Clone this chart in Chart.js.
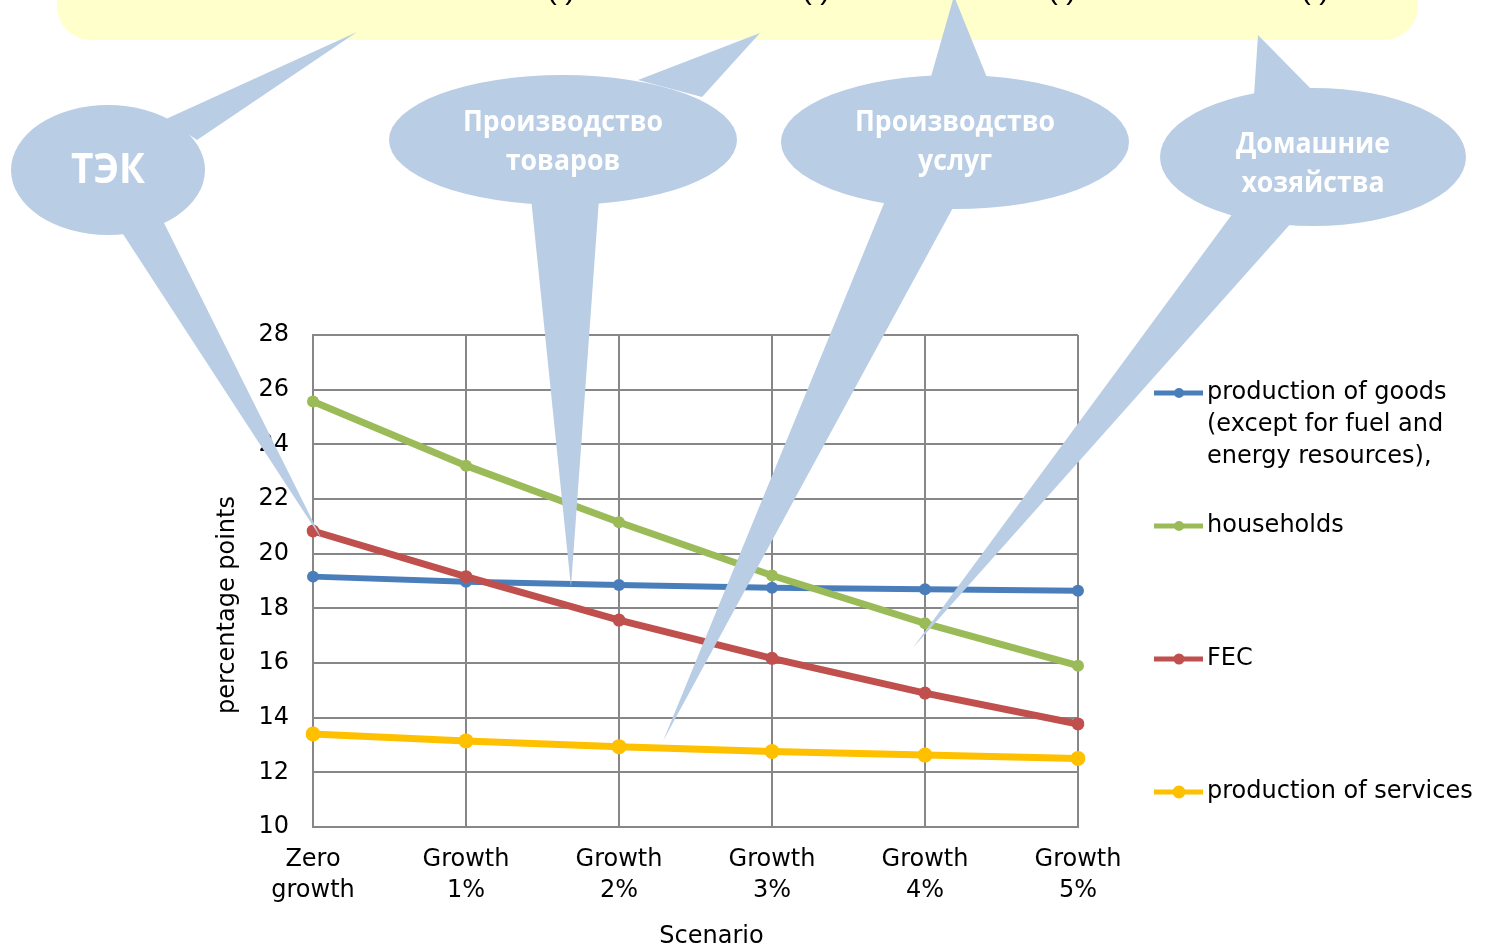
<!DOCTYPE html>
<html>
<head>
<meta charset="utf-8">
<script src="https://cdn.jsdelivr.net/npm/chart.js@4/dist/chart.umd.min.js"></script>
<style>
html, body { margin: 0; padding: 0; background: #fff; }
#kutu { width: 1489px; height: 952px; position: relative; }
</style>
</head>
<body>
<div id="kutu"><canvas id="grafik"></canvas></div>
<script>
// scenarios on the x axis (two-line tick labels)
var scenarios = [["Zero", "growth"], ["Growth", "1%"], ["Growth", "2%"], ["Growth", "3%"], ["Growth", "4%"], ["Growth", "5%"]];

// series values, percentage points
var goods      = [19.16, 18.97, 18.85, 18.75, 18.70, 18.64];
var households = [25.57, 23.22, 21.15, 19.20, 17.45, 15.90];
var fec        = [20.83, 19.16, 17.57, 16.17, 14.90, 13.77];
var services   = [13.40, 13.15, 12.94, 12.76, 12.63, 12.51];

var seriesNames = ["production of goods (except for fuel and energy resources),", "households", "FEC", "production of services"];
var axisNames = ["Scenario", "percentage points"];
var yMin = 10, yMax = 28, yStep = 2;

// callout texts
var bubbleTexts = [["ТЭК"], ["Производство", "товаров"], ["Производство", "услуг"], ["Домашние", "хозяйства"]];

var FONT = '"DejaVu Sans", Arial, sans-serif';
var BUBBLE = '#B9CDE5';

function satirBol(ctx, text, maxW) {
  var words = text.split(' '), lines = [], cur = '';
  for (var w of words) {
    var t = cur ? cur + ' ' + w : w;
    if (ctx.measureText(t).width > maxW && cur) { lines.push(cur); cur = w; }
    else cur = t;
  }
  if (cur) lines.push(cur);
  return lines;
}

// axis titles, placed a little off the plot centre
var eksenBasliklari = {
  id: 'eksenBasliklari',
  afterDraw: function(chart) {
    var ctx = chart.ctx, a = chart.chartArea;
    ctx.save();
    ctx.fillStyle = '#000';
    ctx.font = '24px ' + FONT;
    ctx.textAlign = 'center';
    ctx.textBaseline = 'middle';
    ctx.fillText(axisNames[0], (a.left + a.right) / 2 + 16, 937);
    ctx.translate(228, (a.top + a.bottom) / 2 + 24);
    ctx.rotate(-Math.PI / 2);
    ctx.fillText(axisNames[1], 0, 0);
    ctx.restore();
  }
};

// legend on the right, one entry per dataset
var lejant = {
  id: 'lejant',
  afterDraw: function(chart) {
    var ctx = chart.ctx;
    ctx.save();
    ctx.font = '24px ' + FONT;
    ctx.textBaseline = 'middle';
    ctx.textAlign = 'left';
    chart.data.datasets.forEach(function(ds, i) {
      var y = 393 + i * 133;
      ctx.strokeStyle = ds.borderColor;
      ctx.lineWidth = 5;
      ctx.beginPath(); ctx.moveTo(1154, y); ctx.lineTo(1203, y); ctx.stroke();
      ctx.fillStyle = ds.borderColor;
      ctx.beginPath(); ctx.arc(1179, y, ds.pointRadius - 1, 0, Math.PI * 2); ctx.fill();
      ctx.fillStyle = '#000';
      satirBol(ctx, ds.label, 280).forEach(function(l, k) {
        ctx.fillText(l, 1207, y + k * 32);
      });
    });
    ctx.restore();
  }
};

// yellow header box and the speech bubbles with their tails
var baloncuklar = [
  { cx: 108, cy: 170, rx: 97, ry: 65, size: 42, ty: 171,
    up: { tip: [357, 32], base: [[166, 119], [197, 140]] },
    down: { at: [0.06, 20.5], base: [[121, 231], [163, 221]] } },
  { cx: 563, cy: 140, rx: 174, ry: 65, size: 29, ty: 142,
    up: { tip: [760, 33], base: [[638, 80], [702, 97]] },
    down: { at: [1.686, 18.78], base: [[531, 198], [599, 199]] } },
  { cx: 955, cy: 142, rx: 174, ry: 67, size: 29, ty: 142,
    up: { tip: [954, -4], base: [[930, 80], [988, 80]] },
    down: { at: [2.288, 13.15], base: [[887, 196], [955, 204]] } },
  { cx: 1313, cy: 157, rx: 153, ry: 69, size: 29, ty: 164,
    up: { tip: [1258, 35], base: [[1254, 96], [1314, 92]] },
    down: { at: [3.92, 16.55], base: [[1233, 213], [1293, 221]] } }
];

var aciklamalar = {
  id: 'aciklamalar',
  afterDraw: function(chart) {
    var ctx = chart.ctx, xs = chart.scales.x, ys = chart.scales.y;
    ctx.save();
    // header box, only its lower part is on the page
    ctx.fillStyle = '#FFFFCC';
    ctx.beginPath();
    ctx.roundRect(57, -60, 1361, 100, 34);
    ctx.fill();
    ctx.fillStyle = '#000';
    ctx.font = '30px "Liberation Sans", Arial, sans-serif';
    ctx.textAlign = 'center';
    ctx.textBaseline = 'alphabetic';
    [561, 816, 1062, 1315].forEach(function(x) { ctx.fillText('( )', x, -1); });

    baloncuklar.forEach(function(b, i) {
      ctx.fillStyle = BUBBLE;
      ctx.beginPath();
      ctx.ellipse(b.cx, b.cy, b.rx, b.ry, 0, 0, Math.PI * 2);
      ctx.fill();
      var t = b.up;
      ctx.beginPath();
      ctx.moveTo(t.base[0][0], t.base[0][1]);
      ctx.lineTo(t.tip[0], t.tip[1]);
      ctx.lineTo(t.base[1][0], t.base[1][1]);
      ctx.closePath(); ctx.fill();
      var d = b.down;
      var px = xs.getPixelForValue(d.at[0]), py = ys.getPixelForValue(d.at[1]);
      ctx.beginPath();
      ctx.moveTo(d.base[0][0], d.base[0][1]);
      ctx.lineTo(px, py);
      ctx.lineTo(d.base[1][0], d.base[1][1]);
      ctx.closePath(); ctx.fill();

      var lines = bubbleTexts[i];
      ctx.fillStyle = '#fff';
      ctx.font = 'bold ' + b.size + 'px "Open Sans", "Noto Sans", sans-serif';
      ctx.textAlign = 'center';
      ctx.textBaseline = 'middle';
      lines.forEach(function(l, k) {
        var y = b.ty + (k - (lines.length - 1) / 2) * 39;
        ctx.save();
        ctx.translate(b.cx, y);
        ctx.scale(0.92, 1);
        ctx.fillText(l, 0, 0);
        ctx.restore();
      });
    });
    ctx.restore();
  }
};

function seri(label, data, color, lw, r, sira) {
  return {
    label: label, data: data,
    borderColor: color, backgroundColor: color,
    pointBackgroundColor: color, pointBorderColor: color,
    borderWidth: lw, pointRadius: r, pointBorderWidth: 0,
    tension: 0, order: sira
  };
}

var izgara = { color: '#878787', lineWidth: 2, drawTicks: false };
var kenar = { color: '#878787', width: 2 };

new Chart(document.getElementById('grafik'), {
  type: 'line',
  data: {
    labels: scenarios,
    datasets: [
      seri(seriesNames[0], goods, '#4A7EBB', 6, 6, 4),
      seri(seriesNames[1], households, '#9BBB59', 7, 6, 3),
      seri(seriesNames[2], fec, '#C0504D', 7, 6.5, 2),
      seri(seriesNames[3], services, '#FFC000', 7, 7.5, 1)
    ]
  },
  options: {
    responsive: true,
    maintainAspectRatio: false,
    animation: false,
    layout: { padding: { left: 200, top: 335, right: 411, bottom: 0 } },
    plugins: { legend: { display: false }, tooltip: { enabled: false } },
    scales: {
      x: {
        offset: false,
        grid: izgara, border: kenar,
        ticks: { color: '#000', font: { family: FONT, size: 24, lineHeight: 1.3 }, padding: 17, maxRotation: 0, autoSkip: false },
        afterFit: function(s) { s.height = 125; }
      },
      y: {
        min: yMin, max: yMax,
        grid: izgara, border: kenar,
        ticks: { stepSize: yStep, color: '#000', font: { family: FONT, size: 24 }, padding: 24 },
        afterFit: function(s) { s.width = 113; }
      }
    }
  },
  plugins: [eksenBasliklari, lejant, aciklamalar]
});
</script>
</body>
</html>
